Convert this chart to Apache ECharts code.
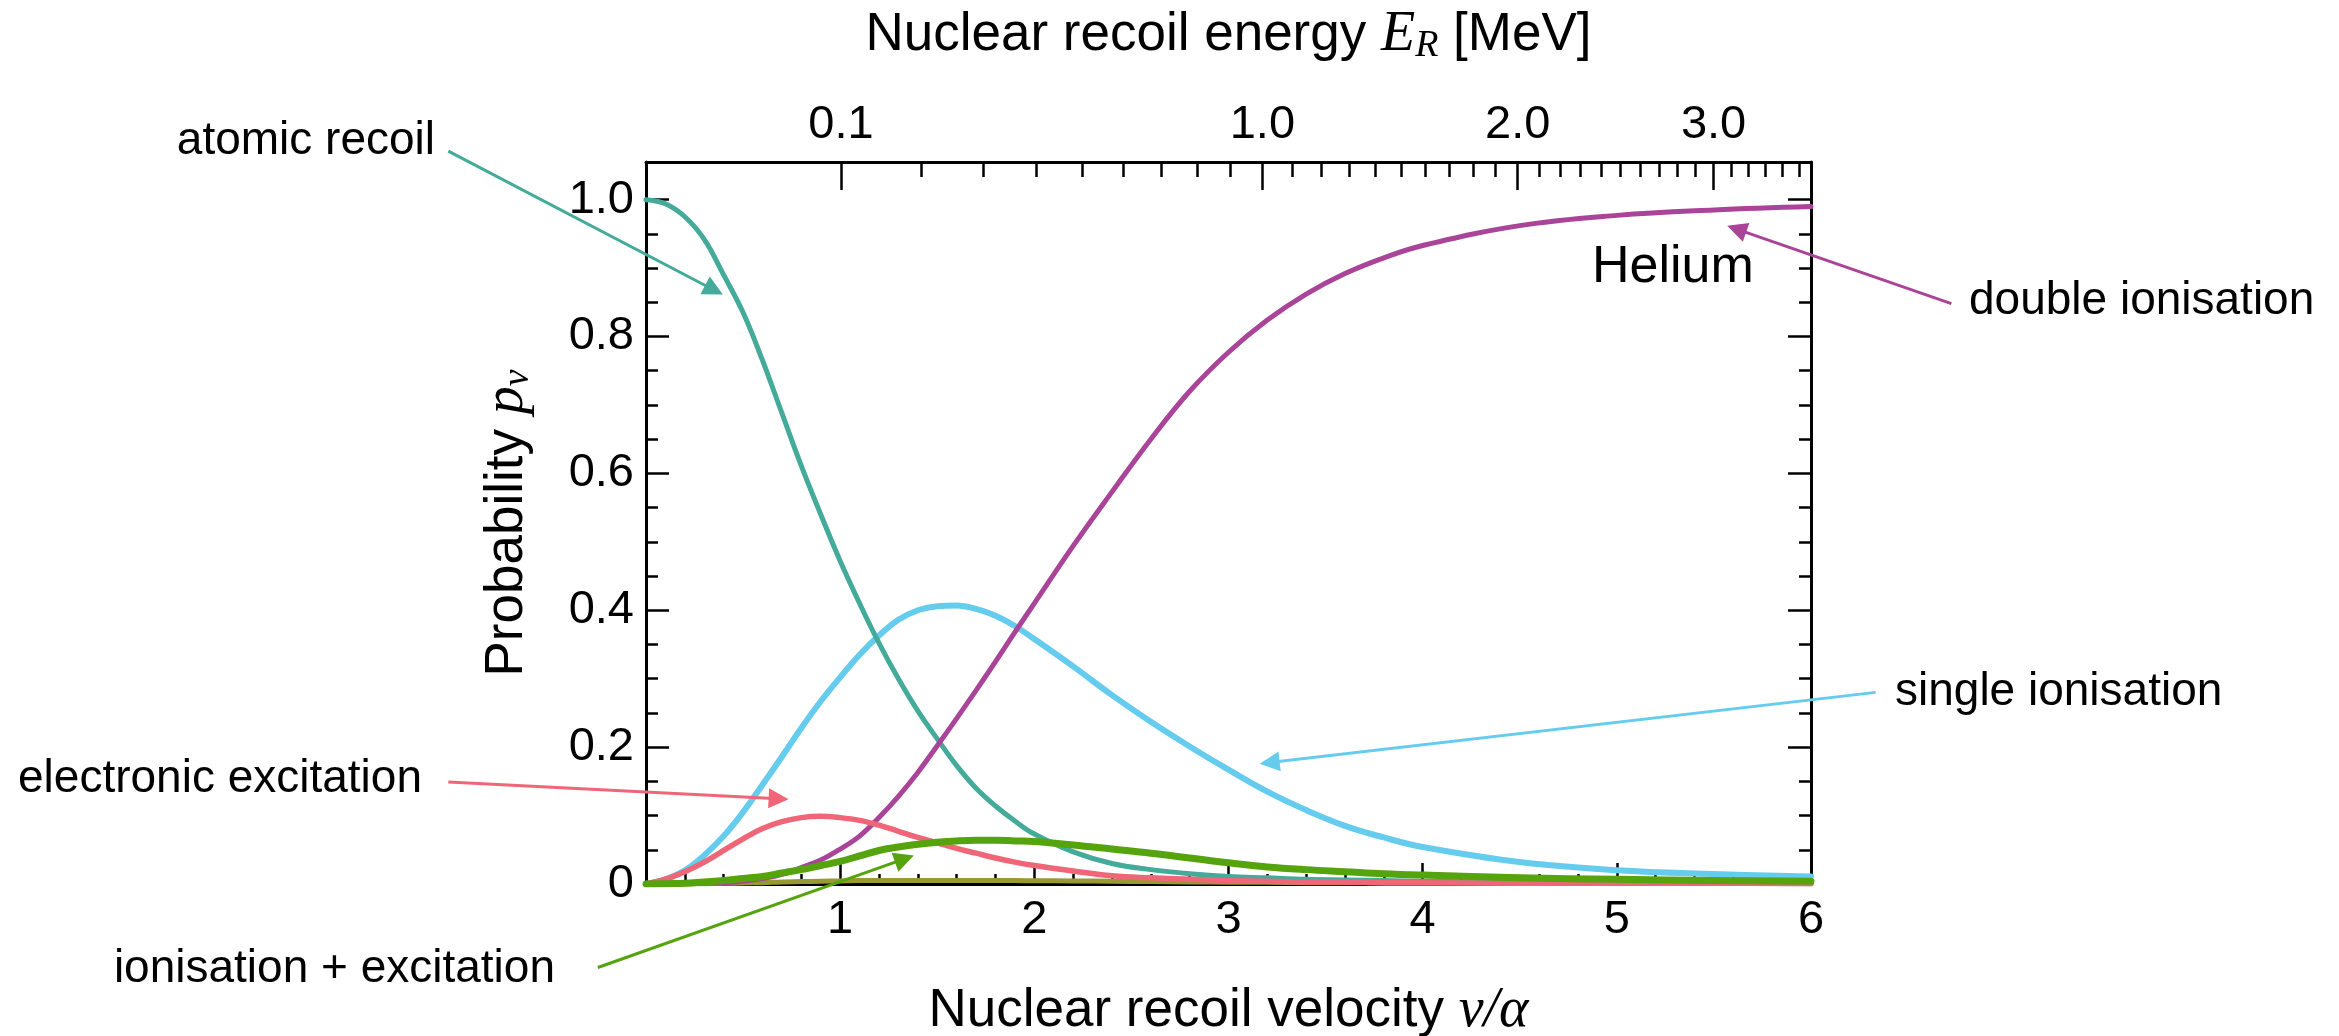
<!DOCTYPE html>
<html>
<head>
<meta charset="utf-8">
<title>Helium recoil channels</title>
<script src="https://cdn.jsdelivr.net/npm/echarts@6/dist/echarts.min.js"></script>
<style>
html, body { margin: 0; padding: 0; background: #fff; }
#chart { width: 2339px; height: 1036px; }
</style>
</head>
<body>
<div id="chart"></div>
<script>
// nuclear recoil velocity v/alpha
var velocity = [0, 0.1, 0.2, 0.3, 0.4, 0.5, 0.6, 0.7, 0.8, 0.9, 1.0, 1.1, 1.2, 1.3, 1.4, 1.5, 1.6, 1.7, 1.8, 1.9, 2.0,
	2.2, 2.4, 2.6, 2.8, 3.0, 3.2, 3.4, 3.6, 3.8, 4.0, 4.5, 5.0, 5.5, 6.0];

// probabilities p_v
var atomicRecoil = [1.000, 0.994, 0.975, 0.942, 0.890, 0.835, 0.765, 0.688, 0.611, 0.540, 0.472, 0.410, 0.352, 0.300, 0.253, 0.212, 0.173, 0.140, 0.114, 0.092, 0.073,
	0.047, 0.030, 0.021, 0.015, 0.011, 0.009, 0.007, 0.006, 0.005, 0.004, 0.003, 0.002, 0.0015, 0.001];
var singleIonisation = [0, 0.007, 0.020, 0.042, 0.070, 0.105, 0.145, 0.186, 0.228, 0.267, 0.302, 0.335, 0.363, 0.386, 0.400, 0.406, 0.407, 0.402, 0.392, 0.377, 0.358,
	0.318, 0.276, 0.237, 0.201, 0.167, 0.135, 0.108, 0.085, 0.068, 0.054, 0.032, 0.020, 0.0145, 0.011];
var electronicExcitation = [0, 0.007, 0.018, 0.032, 0.049, 0.066, 0.081, 0.091, 0.097, 0.099, 0.097, 0.093, 0.086, 0.077, 0.068, 0.060, 0.052, 0.045, 0.038, 0.032, 0.027,
	0.019, 0.012, 0.009, 0.007, 0.005, 0.004, 0.003, 0.003, 0.002, 0.002, 0.001, 0.001, 0.001, 0.0005];
var doubleIonisation = [0, 0, 0.0005, 0.001, 0.002, 0.004, 0.008, 0.014, 0.024, 0.035, 0.051, 0.070, 0.097, 0.128, 0.163, 0.202, 0.242, 0.283, 0.325, 0.368, 0.410,
	0.494, 0.573, 0.650, 0.720, 0.777, 0.824, 0.862, 0.892, 0.915, 0.933, 0.962, 0.977, 0.985, 0.990];
var ionisationExcitation = [0, 0.0005, 0.001, 0.003, 0.005, 0.008, 0.011, 0.016, 0.021, 0.027, 0.033, 0.041, 0.049, 0.054, 0.058, 0.061, 0.063, 0.064, 0.064, 0.063, 0.062,
	0.057, 0.051, 0.045, 0.038, 0.031, 0.025, 0.021, 0.018, 0.015, 0.013, 0.009, 0.007, 0.005, 0.004];
var doubleExcitation = [0, 0, 0, 0.0005, 0.001, 0.0015, 0.002, 0.003, 0.0035, 0.004, 0.0045, 0.005, 0.005, 0.005, 0.005, 0.005, 0.005, 0.005, 0.005, 0.005, 0.0048,
	0.0045, 0.004, 0.0035, 0.003, 0.0027, 0.0024, 0.002, 0.0018, 0.0016, 0.0015, 0.0012, 0.001, 0.0008, 0.0007];

// tick values
var yMajorTicks = [0, 0.2, 0.4, 0.6, 0.8, 1.0];
var yMinorTicks = [0.05, 0.1, 0.15, 0.25, 0.3, 0.35, 0.45, 0.5, 0.55, 0.65, 0.7, 0.75, 0.85, 0.9, 0.95];
var energyMajor = [0.1, 1.0, 2.0, 3.0];
var energyMinor = [0.2, 0.3, 0.4, 0.5, 0.6, 0.7, 0.8, 0.9,
	1.1, 1.2, 1.3, 1.4, 1.5, 1.6, 1.7, 1.8, 1.9,
	2.1, 2.2, 2.3, 2.4, 2.5, 2.6, 2.7, 2.8, 2.9,
	3.1, 3.2, 3.3, 3.4, 3.5];

// E_R = m_He (alpha v)^2 / 2, in MeV
var MEV_PER_V2 = 0.09924;

function toVelocity(e) {
	return Math.sqrt(e / MEV_PER_V2);
}

function pairs(values) {
	return velocity.map(function(v, i) {
		return [v, values[i]];
	});
}

var SANS = '"Liberation Sans", Arial, sans-serif';
var SERIF = '"Liberation Serif", "Times New Roman", serif';

var richMath = {
	m : {
		fontFamily : SERIF,
		fontStyle : 'italic',
		fontSize : 56,
		lineHeight : 60,
		color : '#000'
	},
	s : {
		fontFamily : SERIF,
		fontStyle : 'italic',
		fontSize : 38,
		lineHeight : 30,
		verticalAlign : 'bottom',
		color : '#000'
	}
};

var nameStyle = {
	fontFamily : SANS,
	fontSize : 53,
	lineHeight : 60,
	color : '#000',
	rich : richMath
};

var black = {
	color : '#000',
	width : 2.5
};

function tickAxis(position, values, length, showLine) {
	return {
		type : 'value',
		position : position,
		min : 0,
		max : position == 'top' ? 6 : 1.055,
		axisLine : {
			show : showLine,
			onZero : false,
			lineStyle : {
				color : '#000',
				width : 3
			}
		},
		axisTick : {
			inside : true,
			length : length,
			customValues : values,
			lineStyle : black
		},
		axisLabel : {
			show : false
		},
		splitLine : {
			show : false
		}
	};
}

function curve(name, values, color, width) {
	return {
		name : name,
		type : 'line',
		data : pairs(values),
		smooth : 0.4,
		showSymbol : false,
		symbol : 'none',
		lineStyle : {
			color : color,
			width : width,
			cap : 'round',
			join : 'round'
		},
		itemStyle : {
			color : color
		}
	};
}

function note(text, x, y, align, size) {
	return {
		type : 'text',
		x : x,
		y : y,
		style : {
			text : text,
			font : (size || 46) + 'px ' + SANS,
			fill : '#000',
			align : align,
			verticalAlign : 'middle',
			textAlign : align,
			textVerticalAlign : 'middle'
		}
	};
}

var chart = echarts.init(document.getElementById('chart'));

var energyTop = tickAxis('top', energyMajor.map(toVelocity), 28, true);
energyTop.axisLabel = {
	show : true,
	customValues : energyMajor.map(toVelocity),
	margin : 13,
	fontSize : 47,
	fontFamily : SANS,
	color : '#000',
	formatter : function(v) {
		return (MEV_PER_V2 * v * v).toFixed(1);
	}
};
energyTop.name = 'Nuclear recoil energy {m|E}{s|R} [MeV]';
energyTop.nameLocation = 'middle';
energyTop.nameGap = 97;
energyTop.nameTextStyle = nameStyle;

var leftMajor = tickAxis('left', yMajorTicks, 23, true);
leftMajor.axisLabel = {
	show : true,
	customValues : yMajorTicks,
	margin : 12,
	fontSize : 47,
	fontFamily : SANS,
	color : '#000',
	formatter : function(v) {
		return v === 0 ? '0' : v.toFixed(1);
	}
};
leftMajor.name = 'Probability {m|p}{s|v}';
leftMajor.nameLocation = 'middle';
leftMajor.nameGap = 109;
leftMajor.nameTextStyle = nameStyle;

var option = {
	animation : false,
	backgroundColor : '#fff',
	grid : {
		left : 646,
		right : 528,
		top : 162,
		bottom : 152,
		containLabel : false,
		outerBoundsMode : 'none'
	},
	xAxis : [{
		type : 'value',
		position : 'bottom',
		min : 0,
		max : 6,
		interval : 1,
		axisLine : {
			onZero : false,
			lineStyle : {
				color : '#000',
				width : 3
			}
		},
		axisTick : {
			inside : true,
			length : 21,
			lineStyle : black
		},
		minorTick : {
			show : true,
			splitNumber : 5,
			length : 10,
			lineStyle : black
		},
		axisLabel : {
			margin : 13,
			fontSize : 47,
			fontFamily : SANS,
			color : '#000',
			showMinLabel : true,
			showMaxLabel : true,
			formatter : function(v) {
				return v === 0 ? '' : String(v);
			}
		},
		splitLine : {
			show : false
		},
		name : 'Nuclear recoil velocity {m|v/α}',
		nameLocation : 'middle',
		nameGap : 97,
		nameTextStyle : nameStyle
	}, energyTop, tickAxis('top', energyMinor.map(toVelocity), 15, false)],
	yAxis : [leftMajor, tickAxis('left', yMinorTicks, 12, false),
		tickAxis('right', yMajorTicks, 23, true),
		tickAxis('right', yMinorTicks, 12, false)],
	series : [
		curve('other', doubleExcitation, '#999933', 5),
		curve('single ionisation', singleIonisation, '#66CCEE', 6),
		curve('atomic recoil', atomicRecoil, '#44AA99', 5),
		curve('double ionisation', doubleIonisation, '#AA4499', 5),
		curve('electronic excitation', electronicExcitation, '#EE6677', 5.5),
		curve('ionisation + excitation', ionisationExcitation, '#55A30D', 7),
		{
			// annotation arrows, tail (outside the frame) -> head on the curve
			type : 'lines',
			coordinateSystem : 'cartesian2d',
			clip : false,
			z : 4,
			symbol : ['none', 'triangle'],
			symbolSize : [15, 20],
			lineStyle : {
				width : 3,
				opacity : 1,
				curveness : 0
			},
			data : [{
				coords : [[-1.018, 1.071], [0.350, 0.868]],
				lineStyle : { color : '#44AA99' }
			}, {
				coords : [[-1.018, 0.149], [0.683, 0.1247]],
				lineStyle : { color : '#EE6677' }
			}, {
				coords : [[-0.248, -0.122], [1.331, 0.0367]],
				lineStyle : { color : '#55A30D' }
			}, {
				coords : [[6.333, 0.280], [3.212, 0.1775]],
				lineStyle : { color : '#66CCEE' }
			}, {
				coords : [[6.723, 0.848], [5.617, 0.957]],
				lineStyle : { color : '#AA4499' }
			}]
		}],
	graphic : [
		note('atomic recoil', 435, 141, 'right'),
		note('electronic excitation', 422, 779, 'right'),
		note('ionisation + excitation', 555, 969, 'right'),
		note('double ionisation', 1969, 301, 'left'),
		note('single ionisation', 1895, 692, 'left'),
		note('Helium', 1592, 268, 'left', 52)
	]
};

chart.setOption(option);
</script>
</body>
</html>
